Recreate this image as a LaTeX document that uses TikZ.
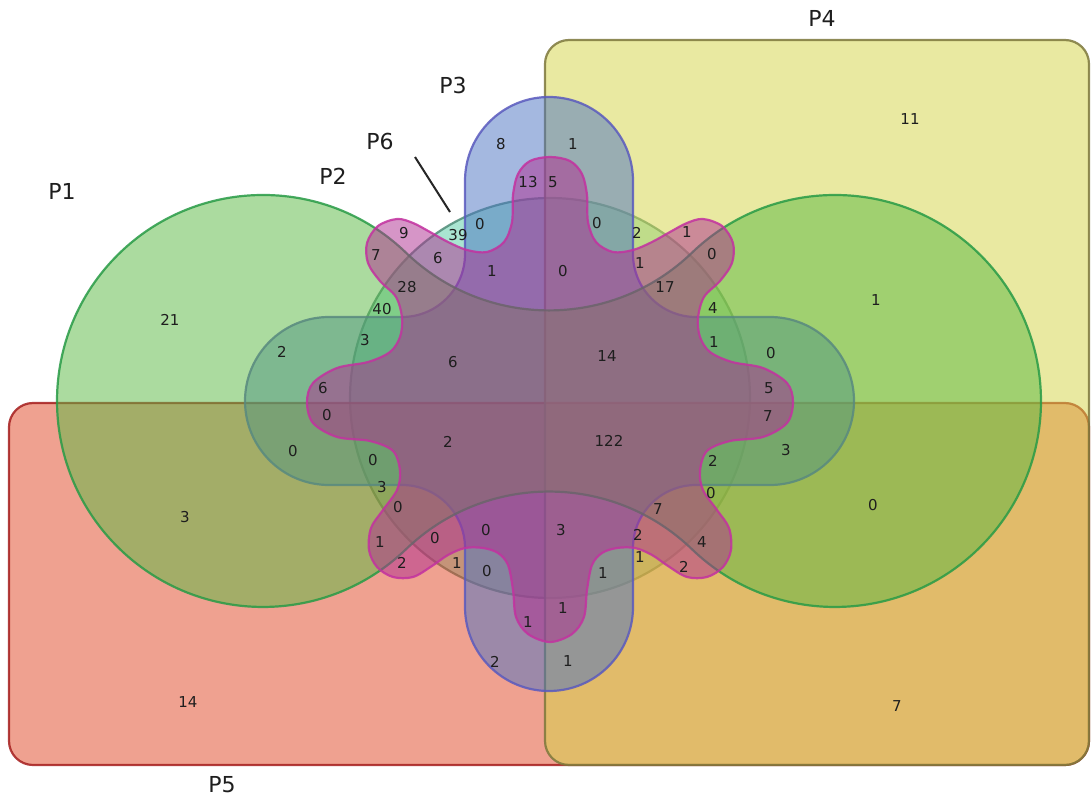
\documentclass[tikz,border=0pt]{standalone}
\usepackage{fontspec}
\setmainfont{DejaVu Sans}
\begin{document}
\begin{tikzpicture}[x=1pt,y=-1pt,line join=round]
\definecolor{cP1}{RGB}{89,185,65}
\definecolor{cP1l}{RGB}{40,155,70}
\definecolor{cP2}{RGB}{85,205,165}
\definecolor{cP2l}{RGB}{80,140,120}
\definecolor{cP3}{RGB}{75,115,195}
\definecolor{cP3l}{RGB}{90,90,190}
\definecolor{cP4}{RGB}{213,213,69}
\definecolor{cP4l}{RGB}{125,120,60}
\definecolor{cP5}{RGB}{225,69,35}
\definecolor{cP5l}{RGB}{165,30,30}
\definecolor{cP6}{RGB}{175,45,145}
\definecolor{cP6l}{RGB}{195,50,160}
\definecolor{txt}{RGB}{30,30,30}
\tikzset{
  setshape/.style={fill opacity=0.5, draw opacity=0.85, line width=2.2pt},
  num/.style={font=\fontsize{15}{15}\selectfont, text=txt, inner sep=0pt},
  setlabel/.style={font=\fontsize{22}{22}\selectfont, text=txt, inner sep=0pt},
}
\useasboundingbox (0,0) rectangle (1091,799);
\fill[white] (0,0) rectangle (1091,799);
% P2 circle
\draw[setshape, fill=cP2, draw=cP2l] (550,398) circle[radius=200];
% P5 rectangle
\draw[setshape, fill=cP5, draw=cP5l, rounded corners=24pt] (9,403) rectangle (1089,765);
% P4 rectangle
\draw[setshape, fill=cP4, draw=cP4l, rounded corners=24pt] (545,40) rectangle (1089,765);
% P3 cross
\draw[setshape, fill=cP3, draw=cP3l]
  (465,181) arc[start angle=180, end angle=360, radius=84]
  -- (633,254) arc[start angle=180, end angle=90, radius=63]
  -- (770,317) arc[start angle=270, end angle=450, radius=84]
  -- (696,485) arc[start angle=270, end angle=180, radius=63]
  -- (633,607) arc[start angle=0, end angle=180, radius=84]
  -- (465,548) arc[start angle=0, end angle=-90, radius=63]
  -- (329,485) arc[start angle=90, end angle=270, radius=84]
  -- (402,317) arc[start angle=90, end angle=0, radius=63]
  -- cycle;
% P1 dumbbell
\draw[setshape, fill=cP1, draw=cP1l]
  (406,252.7) arc[start angle=-46.04, end angle=-313.96, radius=206]
  arc[start angle=226.04, end angle=313.96, radius=206]
  arc[start angle=133.96, end angle=-133.96, radius=206]
  arc[start angle=46.04, end angle=133.96, radius=206] -- cycle;
% P6 flower
\draw[setshape, fill=cP6, draw=cP6l] plot[smooth cycle, tension=0.55] coordinates {
  (550,157) (570,161) (582,174) (587,195) (588,222) (596,242) (613,252) (633,250)
  (652,242) (670,232) (687,223) (703,219) (722,226) (733,243) (732,263) (720,281)
  (704,297) (698,318) (700,337) (710,352) (732,362) (763,368) (787,383) (793,402)
  (787,423) (763,437) (730,441) (707,451) (700,471) (703,490) (717,510) (729,528)
  (731,550) (723,567) (707,577) (687,577) (668,566) (652,555) (635,548) (617,548)
  (602,553) (592,565) (587,590) (584,617) (572,634) (550,642) (528,634) (516,617)
  (513,590) (508,565) (498,553) (483,548) (465,548) (448,555) (432,566) (413,577)
  (393,577) (377,567) (369,550) (371,528) (383,510) (397,490) (400,471) (393,451)
  (370,441) (337,437) (313,423) (307,402) (313,383) (337,368) (368,362) (390,352)
  (400,337) (402,318) (396,297) (380,281) (368,263) (367,243) (378,226) (397,219)
  (413,223) (430,232) (448,242) (467,250) (487,252) (504,242) (512,222) (513,195)
  (518,174) (530,161)};
% set labels
\node[setlabel] (lP1) at (62,191) {P1};
\node[setlabel] (lP2) at (333,176) {P2};
\node[setlabel] (lP3) at (453,85) {P3};
\node[setlabel] (lP4) at (822,18) {P4};
\node[setlabel] (lP5) at (222,785) {P5};
\node[setlabel] (lP6) at (380,141) {P6};
\coordinate (p6a) at (415,157);
\coordinate (p6b) at (450,212);
\draw[line width=2pt, black!85] (p6a) -- (p6b);
% region counts
\node[num] (n01) at (910,119) {11};
\node[num] (n02) at (501,144) {8};
\node[num] (n03) at (573,144) {1};
\node[num] (n04) at (528,182) {13};
\node[num] (n05) at (553,182) {5};
\node[num] (n06) at (170,320) {21};
\node[num] (n07) at (876,300) {1};
\node[num] (n08) at (404,233) {9};
\node[num] (n09) at (458,235) {39};
\node[num] (n10) at (480,224) {0};
\node[num] (n11) at (597,223) {0};
\node[num] (n12) at (637,233) {2};
\node[num] (n13) at (687,232) {1};
\node[num] (n14) at (376,255) {7};
\node[num] (n15) at (438,258) {6};
\node[num] (n16) at (492,271) {1};
\node[num] (n17) at (563,271) {0};
\node[num] (n18) at (640,263) {1};
\node[num] (n19) at (712,254) {0};
\node[num] (n20) at (407,287) {28};
\node[num] (n21) at (665,287) {17};
\node[num] (n22) at (382,309) {40};
\node[num] (n23) at (713,308) {4};
\node[num] (n24) at (282,352) {2};
\node[num] (n25) at (365,340) {3};
\node[num] (n26) at (453,362) {6};
\node[num] (n27) at (607,356) {14};
\node[num] (n28) at (714,342) {1};
\node[num] (n29) at (771,353) {0};
\node[num] (n30) at (323,388) {6};
\node[num] (n31) at (769,388) {5};
\node[num] (n32) at (327,415) {0};
\node[num] (n33) at (768,416) {7};
\node[num] (n34) at (448,442) {2};
\node[num] (n35) at (609,441) {122};
\node[num] (n36) at (293,451) {0};
\node[num] (n37) at (373,460) {0};
\node[num] (n38) at (713,461) {2};
\node[num] (n39) at (786,450) {3};
\node[num] (n40) at (382,487) {3};
\node[num] (n41) at (711,493) {0};
\node[num] (n42) at (185,517) {3};
\node[num] (n43) at (398,507) {0};
\node[num] (n44) at (658,509) {7};
\node[num] (n45) at (873,505) {0};
\node[num] (n46) at (486,530) {0};
\node[num] (n47) at (561,530) {3};
\node[num] (n48) at (435,538) {0};
\node[num] (n49) at (380,542) {1};
\node[num] (n50) at (638,535) {2};
\node[num] (n51) at (702,542) {4};
\node[num] (n52) at (402,563) {2};
\node[num] (n53) at (457,563) {1};
\node[num] (n54) at (487,571) {0};
\node[num] (n55) at (640,557) {1};
\node[num] (n56) at (684,567) {2};
\node[num] (n57) at (603,573) {1};
\node[num] (n58) at (563,608) {1};
\node[num] (n59) at (528,622) {1};
\node[num] (n60) at (495,662) {2};
\node[num] (n61) at (568,661) {1};
\node[num] (n62) at (188,702) {14};
\node[num] (n63) at (897,706) {7};
\end{tikzpicture}
\end{document}
